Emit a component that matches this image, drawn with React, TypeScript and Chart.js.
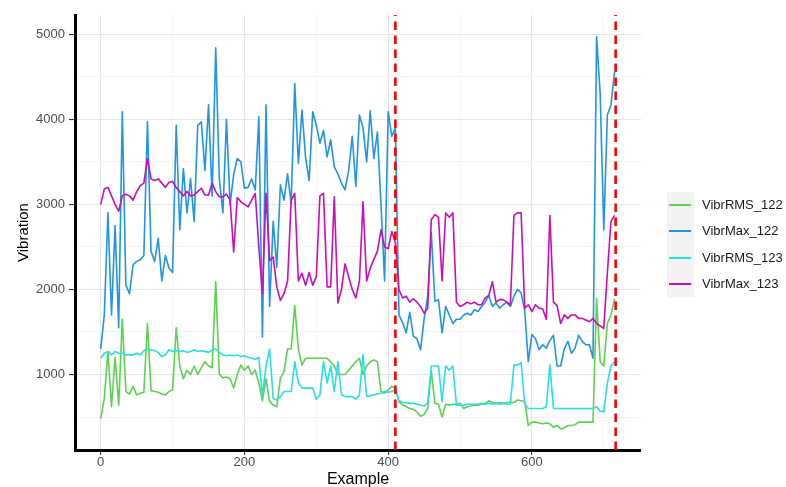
import React, { useEffect, useRef } from 'react';
import { Chart, registerables } from 'chart.js';

Chart.register(...registerables);

// ---- data (x = index * STEP) ----
const STEP = 5;
const SERIES_NAMES = ['VibrRMS_122', 'VibrMax_122', 'VibrRMS_123', 'VibrMax_123'];
const SERIES_COLORS = ['#5cd250', '#2194e2', '#27dfe5', '#c90dbd'];

const vibrRMS122 = [
  480, 720, 1270, 620, 1200, 640, 1650, 800, 770, 860,
  760, 780, 790, 1600, 810, 800, 790, 770, 760, 800,
  820, 1550, 1100, 950, 1050, 1000, 1100, 1000, 1080, 1150,
  1100, 1080, 2090, 1000, 960, 970, 950, 840, 1000, 1110,
  1050, 1100, 1000, 1050, 900, 690, 950, 680, 640, 620,
  960, 1030, 1300, 1300, 1810, 1300, 1110, 1190, 1190, 1190,
  1190, 1190, 1190, 1190, 1150, 1100, 1000, 1000, 1000, 1050,
  1100, 1150, 1190, 1000, 1100, 1150, 1170, 1150, 800, 780,
  820, 860, 840, 680, 640, 620, 600, 590, 560, 510,
  530, 600, 1040, 660, 650, 500, 650, 640, 650, 650,
  660, 600, 620, 630, 640, 640, 650, 660, 690, 670,
  660, 670, 660, 670, 670, 670, 700, 690, 680, 400,
  440, 440, 430, 420, 430, 420, 380, 400, 360, 370,
  400, 400, 410, 440, 440, 440, 440, 440, 1890, 1150,
  1100, 1600, 1700, 1890,
];

const vibrMax122 = [
  1300, 1700, 2900, 1700, 2750, 1550, 4090, 2050, 1950, 2290,
  2330, 2350, 2400, 3970, 2450, 2330, 2600, 2100, 2400, 2250,
  2200, 3930, 2700, 3420, 2900, 3300, 2800, 3930, 3970, 3400,
  4170, 3100, 4840, 3300, 2900, 4000, 3000, 3350, 3540, 3500,
  3190, 3200, 3300, 3170, 4030, 1440, 4170, 1800, 2800, 2260,
  3230, 3050, 3360, 3010, 4420, 3480, 4110, 3560, 3280, 4090,
  3930, 3720, 3870, 3560, 3760, 3440, 3360, 3250, 3170, 3400,
  3800, 3210, 4050, 3900, 3500, 4100, 3540, 3850, 3000, 2100,
  4090, 3800, 3900, 1700, 1610, 1490, 1730, 1450, 1420, 1290,
  1650, 1920, 2670, 1860, 1880, 1490, 1800, 1700, 1600, 1650,
  1650, 1700, 1720, 1700, 1760, 1740, 1800, 1850, 1930, 1800,
  1840, 1780, 1820, 1850, 1800, 1920, 2000, 1960, 1750, 1150,
  1470, 1420, 1290, 1350, 1310, 1400, 1460, 1100, 1100, 1300,
  1390, 1250, 1310, 1460, 1390, 1350, 1350, 1190, 4970, 4300,
  2700, 4050, 4170, 4560,
];

const vibrRMS123 = [
  1190, 1250, 1270, 1230, 1270, 1250, 1250, 1230, 1230, 1230,
  1250, 1230, 1280, 1300, 1290, 1280, 1260, 1210, 1230, 1290,
  1270, 1280, 1270, 1280, 1260, 1270, 1290, 1270, 1280, 1270,
  1260, 1290, 1300, 1260, 1230, 1220, 1230, 1220, 1230, 1210,
  1220, 1200, 1190, 1180, 1200, 750, 1100, 1300, 720, 700,
  740, 800, 800, 800, 1150, 900, 840, 840, 840, 840,
  710, 760, 1150, 900, 1100, 800, 1150, 765, 740, 740,
  740, 710, 760, 1230, 740, 750, 760, 770, 780, 800,
  790, 800, 820, 690, 670, 670, 660, 660, 650, 640,
  630, 660, 1100, 1100, 1100, 680, 1100, 1050, 1100, 640,
  640, 640, 650, 650, 650, 650, 660, 650, 660, 650,
  660, 650, 660, 650, 650, 1110, 1110, 1140, 650, 600,
  600, 600, 600, 600, 620, 1110, 600, 600, 600, 600,
  600, 600, 600, 600, 600, 600, 600, 600, 620, 570,
  560, 900, 1100, 1150,
];

const vibrMax123 = [
  3000, 3180, 3200, 3100, 3000, 2920, 3100, 3120, 3100, 3050,
  3150, 3220, 3250, 3540, 3300, 3280, 3300, 3250, 3200, 3260,
  3270, 3200, 3150, 3100, 3150, 3100, 3110, 3150, 3190, 3110,
  3110, 3250, 3150, 3090, 3090, 3120, 3050, 2440, 3080, 3030,
  3000, 2970, 3050, 3130, 2500, 1950, 3130, 2340, 2380, 2030,
  1870, 1950, 2100, 3050, 3130, 2100, 2190, 2050, 2200, 2050,
  2150, 3100, 3130, 2030, 2030, 3090, 1840, 2000, 2300, 2150,
  2000, 1900, 2100, 3030, 2100, 2250, 2350, 2450, 2700, 2500,
  2480, 2680, 2550, 2000, 1900, 1920, 1850, 1890, 1850, 1800,
  1720, 1780, 2820, 2880, 2850, 2100, 2900, 2850, 2900, 1850,
  1800, 1820, 1850, 1830, 1850, 1820, 1820, 1900, 1930, 2090,
  1850, 1880, 1880, 1850, 1820, 2870, 2900, 2900, 1780, 1820,
  1740, 1820, 1780, 1770, 1650, 2870, 1850, 1810, 1600, 1700,
  1660, 1700, 1700, 1660, 1660, 1640, 1620, 1660, 1600, 1570,
  1540, 2200, 2800, 2870,
];

const SERIES_VALUES = [vibrRMS122, vibrMax122, vibrRMS123, vibrMax123];
const SERIES_ORDER = [3, 2, 1, 0]; // magenta on top

const X_TICKS = [0, 100, 200, 300, 400, 500, 600, 700];
const X_LABELLED = [0, 200, 400, 600];
const Y_TICKS = [500, 1000, 1500, 2000, 2500, 3000, 3500, 4000, 4500, 5000];
const Y_LABELLED = [1000, 2000, 3000, 4000, 5000];
const MARKER_LINES = [410, 716.5];

const X_MIN = -35.8;
const X_MAX = 751.8;
const Y_MIN = 112;
const Y_MAX = 5227;

const FONT = '"Liberation Sans", Arial, Helvetica, sans-serif';

const markerPlugin = {
  id: 'markerLines',
  afterDatasetsDraw(chart: any) {
    const { ctx, chartArea, scales } = chart;
    ctx.save();
    ctx.beginPath();
    ctx.rect(chartArea.left, chartArea.top, chartArea.right - chartArea.left, chartArea.bottom - chartArea.top);
    ctx.clip();
    ctx.strokeStyle = '#ff0000';
    ctx.lineWidth = 2.6;
    ctx.setLineDash([8.5, 5.5]);
    for (const v of MARKER_LINES) {
      const px = scales.x.getPixelForValue(v);
      ctx.beginPath();
      ctx.moveTo(px, chartArea.bottom);
      ctx.lineTo(px, chartArea.top);
      ctx.stroke();
    }
    ctx.restore();
  },
};

export default function App() {
  const canvasRef = useRef<HTMLCanvasElement | null>(null);

  useEffect(() => {
    if (!canvasRef.current) return;
    const datasets = SERIES_NAMES.map((name, si) => ({
      label: name,
      data: SERIES_VALUES[si].map((v, i) => ({ x: i * STEP, y: v })),
      borderColor: SERIES_COLORS[si],
      backgroundColor: SERIES_COLORS[si],
      borderWidth: 1.6,
      pointRadius: 0,
      tension: 0,
      borderJoinStyle: 'round' as const,
      order: SERIES_ORDER[si],
    }));

    const chart = new Chart(canvasRef.current, {
      type: 'line',
      data: { datasets },
      options: {
        animation: false,
        responsive: false,
        devicePixelRatio: 1,
        layout: { padding: { left: 0, right: 145, top: 15, bottom: 0 } },
        plugins: { legend: { display: false }, tooltip: { enabled: false } },
        scales: {
          x: {
            type: 'linear',
            min: X_MIN,
            max: X_MAX,
            afterBuildTicks: (s: any) => {
              s.ticks = X_TICKS.map((v) => ({ value: v }));
            },
            afterFit: (s: any) => {
              s.height = 37;
            },
            ticks: {
              autoSkip: false,
              maxRotation: 0,
              padding: 0,
              color: '#4d4d4d',
              font: { family: FONT, size: 13 },
              callback: (v: any) => (X_LABELLED.includes(Number(v)) ? String(v) : ''),
            },
            grid: {
              color: (c: any) => (X_LABELLED.includes(c.tick?.value) ? '#e6e6e6' : '#efefef'),
              lineWidth: (c: any) => (X_LABELLED.includes(c.tick?.value) ? 1.1 : 0.7),
              tickColor: (c: any) => (X_LABELLED.includes(c.tick?.value) ? '#333333' : 'rgba(0,0,0,0)'),
              tickLength: 5,
              tickWidth: 1.1,
            },
            border: { display: true, color: '#000000', width: 3 },
            title: {
              display: true,
              text: 'Example',
              color: '#000000',
              font: { family: FONT, size: 16, lineHeight: 0.9 },
              padding: { top: 0, bottom: 0 },
            },
          },
          y: {
            type: 'linear',
            min: Y_MIN,
            max: Y_MAX,
            afterBuildTicks: (s: any) => {
              s.ticks = Y_TICKS.map((v) => ({ value: v }));
            },
            afterFit: (s: any) => {
              s.width = 75;
            },
            ticks: {
              autoSkip: false,
              padding: 4,
              color: '#4d4d4d',
              font: { family: FONT, size: 13 },
              callback: (v: any) => (Y_LABELLED.includes(Number(v)) ? String(v) : ''),
            },
            grid: {
              color: (c: any) => (Y_LABELLED.includes(c.tick?.value) ? '#e6e6e6' : '#efefef'),
              lineWidth: (c: any) => (Y_LABELLED.includes(c.tick?.value) ? 1.1 : 0.7),
              tickColor: (c: any) => (Y_LABELLED.includes(c.tick?.value) ? '#333333' : 'rgba(0,0,0,0)'),
              tickLength: 6,
              tickWidth: 1.1,
            },
            border: { display: true, color: '#000000', width: 3 },
            title: {
              display: true,
              text: 'Vibration',
              color: '#000000',
              font: { family: FONT, size: 15, lineHeight: 1.2 },
              padding: { top: 15, bottom: 0 },
            },
          },
        },
      },
      plugins: [markerPlugin],
    });
    return () => chart.destroy();
  }, []);

  const legendTop = 192;
  const itemH = 26.25;

  return (
    <div style={{ position: 'absolute', left: 0, top: 0, width: 786, height: 487, background: '#ffffff', overflow: 'hidden' }}>
      <canvas ref={canvasRef} width={786} height={487} style={{ display: 'block', width: 786, height: 487 }} />
      <div
        style={{
          position: 'absolute',
          left: 667,
          top: legendTop,
          width: 27,
          height: itemH * SERIES_NAMES.length,
          background: '#f2f2f2',
        }}
      />
      {SERIES_NAMES.map((name, i) => {
        const cy = legendTop + itemH * (i + 0.5);
        return (
          <React.Fragment key={name}>
            <div
              style={{
                position: 'absolute',
                left: 669,
                top: cy - 1,
                width: 22,
                height: 2,
                background: SERIES_COLORS[i],
              }}
            />
            <div
              style={{
                position: 'absolute',
                left: 702,
                top: cy - 9,
                height: 18,
                lineHeight: '18px',
                fontFamily: FONT,
                fontSize: 13,
                color: '#1a1a1a',
                whiteSpace: 'nowrap',
              }}
            >
              {name}
            </div>
          </React.Fragment>
        );
      })}
    </div>
  );
}
